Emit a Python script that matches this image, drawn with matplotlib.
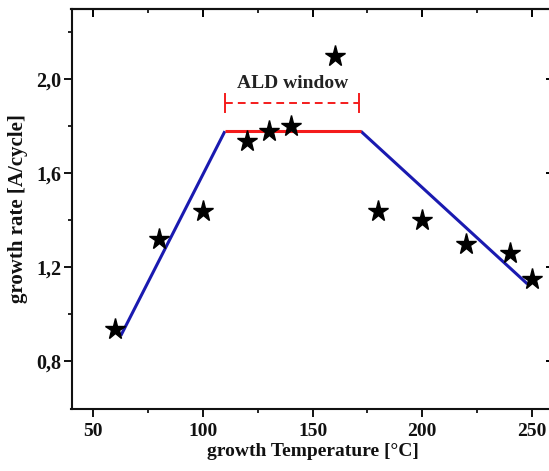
import matplotlib
matplotlib.use("Agg")
import matplotlib.pyplot as plt
from matplotlib.ticker import FixedLocator, FuncFormatter

# Data
temps = [60, 80, 100, 120, 130, 140, 160, 180, 200, 220, 240, 250]
rates = [0.94, 1.32, 1.44, 1.74, 1.78, 1.80, 2.10, 1.44, 1.40, 1.30, 1.26, 1.15]

rise_x = [62.5, 110]
rise_y = [0.91, 1.78]
plateau_x = [110, 172]
plateau_y = [1.78, 1.78]
fall_x = [172, 248]
fall_y = [1.78, 1.13]

window_x = [110, 171]
window_y = 1.90
window_label = "ALD window"

x_major = [50, 100, 150, 200, 250]
x_minor = [75, 125, 175, 225]
y_major = [0.8, 1.2, 1.6, 2.0]
y_minor = [1.0, 1.4, 1.8, 2.2]

plt.rcParams['font.family'] = ['Liberation Serif', 'DejaVu Serif']
plt.rcParams['font.weight'] = 'bold'

fig = plt.figure(figsize=(5.49, 4.71), dpi=100)
ax = fig.add_axes([71.5 / 549, 1 - 408.5 / 471, (553.7 - 71.5) / 549, (408.5 - 9) / 471])

blue = '#1a1ab0'
red = '#f41c1c'

ax.plot(rise_x, rise_y, color=blue, lw=2.2, solid_capstyle='butt', zorder=2)
ax.plot(fall_x, fall_y, color=blue, lw=2.2, solid_capstyle='butt', zorder=2)
ax.plot(plateau_x, plateau_y, color=red, lw=2.2, solid_capstyle='butt', zorder=2)

# ALD window dashed bracket
ax.plot(window_x, [window_y, window_y], color=red, lw=1.4, ls=(0, (4, 2.6)), zorder=2)
for xv in window_x:
    ax.plot([xv, xv], [window_y - 0.04, window_y + 0.04], color=red, lw=1.4, zorder=2)
ax.text((window_x[0] + window_x[1]) / 2 + 0.5, 1.985, window_label, ha='center', va='center',
        fontsize=14, fontweight='bold', color='#222222')

ax.plot(temps, rates, ls='none', marker='*', ms=15.5, color='black', mec='black', zorder=3)

ax.set_xlim(40, 260)
ax.set_ylim(0.6, 2.3)

ax.xaxis.set_major_locator(FixedLocator(x_major))
ax.xaxis.set_minor_locator(FixedLocator(x_minor))
ax.yaxis.set_major_locator(FixedLocator(y_major))
ax.yaxis.set_minor_locator(FixedLocator(y_minor))
ax.yaxis.set_major_formatter(FuncFormatter(lambda v, p: f"{v:.1f}".replace('.', ',')))
ax.xaxis.set_major_formatter(FuncFormatter(lambda v, p: f"{int(v)}"))

for s in ax.spines.values():
    s.set_linewidth(1.5)
    s.set_color('#111111')
ax.spines['right'].set_visible(False)

ax.tick_params(axis='both', which='major', direction='out', length=5.5, width=1.4,
               labelsize=14.5, colors='#111111')
ax.tick_params(axis='both', which='minor', direction='out', length=3, width=1.2)
ax.tick_params(axis='x', which='major', pad=5, labelsize=14)
ax.tick_params(axis='y', which='major', pad=2)

# mirrored inward ticks on top and right
axt = ax.secondary_xaxis('top')
axt.xaxis.set_major_locator(FixedLocator(x_major))
axt.xaxis.set_minor_locator(FixedLocator(x_minor))
axt.tick_params(which='major', direction='in', length=6, width=1.4, labeltop=False)
axt.tick_params(which='minor', direction='in', length=3, width=1.2)
axr = ax.secondary_yaxis('right')
axr.yaxis.set_major_locator(FixedLocator(y_major))
axr.yaxis.set_minor_locator(FixedLocator(y_minor))
axr.tick_params(which='major', direction='in', length=5.5, width=1.4, labelright=False)
axr.tick_params(which='minor', direction='in', length=3.5, width=1.2)
for s in axt.spines.values():
    s.set_linewidth(1.5)
    s.set_color('#111111')
for s in axr.spines.values():
    s.set_visible(False)

ax.set_xlabel("growth Temperature [°C]", fontsize=14, fontweight='bold', labelpad=2, color='#111111')
ax.set_ylabel("growth rate [A/cycle]", fontsize=15, fontweight='bold', labelpad=6, color='#111111')

fig.savefig("out.png", dpi=100)
